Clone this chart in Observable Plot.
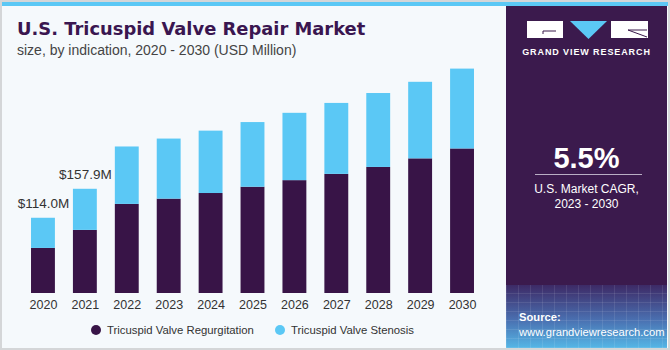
<!DOCTYPE html>
<html>
<head>
<meta charset="utf-8">
<script src="https://cdn.jsdelivr.net/npm/d3@7"></script>
<script src="https://cdn.jsdelivr.net/npm/@observablehq/plot@0.6"></script>
<style>
  html, body { margin: 0; padding: 0; }
  body { width: 670px; height: 350px; overflow: hidden; font-family: "Liberation Sans", Arial, sans-serif; }
  #card { position: absolute; left: 0; top: 0; width: 666px; height: 346px; border: 2px solid #d4d6d8; background: #f5f9fc; overflow: hidden; }
  #stripe { position: absolute; left: 0; top: 0; width: 666px; height: 4px; background: #5bc8f5; }
  #title { position: absolute; left: 15px; top: 16px; font-family: "DejaVu Sans", sans-serif; font-size: 17.9px; font-weight: bold; color: #3a1650; white-space: nowrap; }
  #subtitle { position: absolute; left: 15px; top: 40px; font-size: 14px; color: #444; white-space: nowrap; }
  #chart { position: absolute; left: -2px; top: 37px; }
  #legend { position: absolute; top: 319px; left: 0; height: 18px; font-size: 11.35px; color: #333; }
  .li { position: absolute; top: 0; white-space: nowrap; display: flex; align-items: center; height: 18px; }
  .dot { width: 10px; height: 10px; border-radius: 50%; display: inline-block; margin-right: 6px; }
  #panel { position: absolute; left: 504px; top: 4px; width: 161px; height: 342px; background: #3b1a4d; }
  #gvr { position: absolute; left: 0; width: 161px; top: 41px; text-align: center; color: #fff; font-size: 9px; font-weight: bold; letter-spacing: 0.9px; }
  #cagr { position: absolute; left: 0; width: 161px; top: 136px; text-align: center; color: #fff; font-size: 29px; font-weight: bold; }
  #rule { position: absolute; left: 29px; width: 107px; top: 168px; height: 1px; background: #b9aec4; }
  #cagrtxt { position: absolute; left: 0; width: 161px; top: 176px; text-align: center; color: #fff; font-size: 12px; line-height: 15px; }
  #source { position: absolute; left: 0; top: 279px; width: 161px; height: 63px;
    background:
      repeating-linear-gradient(90deg, rgba(255,255,255,0.09) 0 1px, transparent 1px 12px),
      repeating-linear-gradient(0deg, rgba(255,255,255,0.09) 0 1px, transparent 1px 9px),
      linear-gradient(180deg, #3d2a66 0%, #4a6fb0 55%, #55b6e6 100%); }
  #srctxt { position: absolute; left: 13px; top: 25px; color: #fff; font-size: 11.2px; line-height: 15px; white-space: nowrap; }
</style>
</head>
<body>
<div id="card">
  <div id="stripe"></div>
  <div id="title">U.S. Tricuspid Valve Repair Market</div>
  <div id="subtitle">size, by indication, 2020 - 2030 (USD Million)</div>
  <div id="chart"></div>
  <div id="legend"></div>
  <div id="panel">
    <svg style="position:absolute;left:0;top:0" width="161" height="40">
      <rect x="21" y="15" width="36" height="17" fill="#fff"/>
      <line x1="37" y1="25" x2="50" y2="25" stroke="#3b1a4d" stroke-width="1"/>
      <line x1="37" y1="25" x2="37" y2="28" stroke="#3b1a4d" stroke-width="1"/>
      <polygon points="64,15 101,15 82.5,33" fill="#5bc8f5"/>
      <rect x="105" y="15" width="37" height="17" fill="#fff"/>
      <line x1="122" y1="24" x2="141" y2="31" stroke="#3b1a4d" stroke-width="1"/>
      <line x1="122" y1="24" x2="141" y2="24" stroke="#3b1a4d" stroke-width="1"/>
    </svg>
    <div id="gvr">GRAND VIEW RESEARCH</div>
    <div id="cagr">5.5%</div>
    <div id="rule"></div>
    <div id="cagrtxt">U.S. Market CAGR,<br>2023 - 2030</div>
    <div id="source"><div id="srctxt"><b>Source:</b><br>www.grandviewresearch.com</div></div>
  </div>
</div>
<script>
const years = ["2020","2021","2022","2023","2024","2025","2026","2027","2028","2029","2030"];
const regurgitation = [68.3, 95.6, 135, 143, 151.5, 161, 171, 180.5, 191, 204, 219];
const stenosis = [45.7, 62.3, 87, 91, 94.5, 98, 102, 107.5, 112, 116, 121];
const seriesNames = ["Tricuspid Valve Regurgitation", "Tricuspid Valve Stenosis"];
const seriesColors = ["#381447", "#5bc8f5"];
const labelYears = ["2020", "2021"];
const labelTexts = ["$114.0M", "$157.9M"];

const data = years.flatMap((yr, i) => [
  {year: yr, series: seriesNames[0], value: regurgitation[i]},
  {year: yr, series: seriesNames[1], value: stenosis[i]}
]);
const labels = labelYears.map((yr, k) => {
  const i = years.indexOf(yr);
  return {year: yr, total: regurgitation[i] + stenosis[i], text: labelTexts[k]};
});

const chart = Plot.plot({
  width: 500,
  height: 285,
  marginLeft: 13,
  marginRight: 8,
  marginTop: 23,
  marginBottom: 31,
  style: {background: "transparent", fontFamily: "Liberation Sans, Arial, sans-serif", fontSize: "12.5px", color: "#333"},
  x: {domain: years, padding: 0.43, round: false, label: null},
  y: {domain: [0, 350], axis: null},
  color: {domain: seriesNames, range: seriesColors},
  marks: [
    Plot.barY(data, {x: "year", y: "value", fill: "series"}),
    Plot.text(labels, {x: "year", y: "total", text: "text", dy: -15, fontSize: 13.5, fill: "#333"}),
    Plot.axisX({tickSize: 0, tickPadding: 7, fill: "#333"})
  ]
});
document.getElementById("chart").appendChild(chart);

const legend = document.getElementById("legend");
const legendX = [89, 273];
seriesNames.forEach((name, i) => {
  const item = document.createElement("div");
  item.className = "li";
  item.style.left = legendX[i] + "px";
  const dot = document.createElement("span");
  dot.className = "dot";
  dot.style.background = seriesColors[i];
  item.appendChild(dot);
  item.appendChild(document.createTextNode(name));
  legend.appendChild(item);
});
</script>
</body>
</html>
